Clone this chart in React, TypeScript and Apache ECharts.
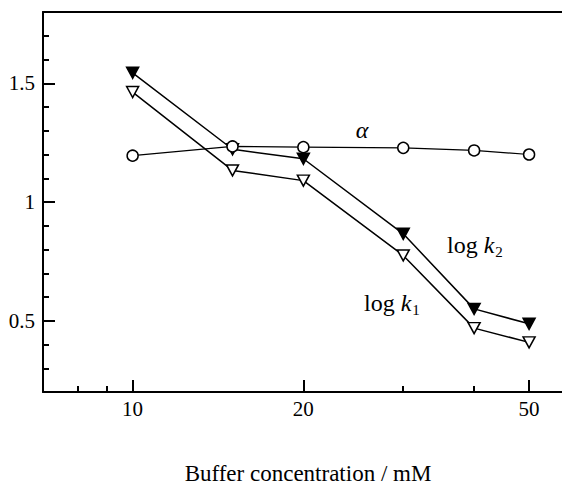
import React, { useEffect, useRef } from "react";
import * as echarts from "echarts";

const concentration = [10, 15, 20, 30, 40, 50];
const alphaValues = [1.195, 1.234, 1.231, 1.228, 1.217, 1.2];
const logK2Values = [1.544, 1.222, 1.182, 0.866, 0.55, 0.487];
const logK1Values = [1.463, 1.133, 1.09, 0.775, 0.469, 0.409];

const majorXTicks = [10, 20, 50];
const minorXTicks = [8, 9, 30, 40];
const majorYTicks = [0.5, 1, 1.5];

const FONT = "Liberation Serif";
const lg = (v: number) => Math.log10(v);

export default function App() {
  const ref = useRef<HTMLDivElement>(null);
  useEffect(() => {
    if (!ref.current) return;
    const chart = echarts.init(ref.current, null, { renderer: "svg" });
    const xMin = 0.842;
    const xMax = 1.757;
    const pts = (vals: number[]) => concentration.map((c, i) => [lg(c), vals[i]]);
    const lineStyle = { color: "#000", width: 1.5 };
    const sub = (d: string) => ({
      text: `{n|log }{i|k}{s|${d}}`,
      fill: "#000",
      fontFamily: FONT,
      verticalAlign: "middle",
      rich: {
        n: { fontFamily: FONT, fontSize: 24, lineHeight: 28, fill: "#000" },
        i: { fontFamily: FONT, fontSize: 24, fontStyle: "italic", lineHeight: 28, fill: "#000" },
        s: { fontFamily: FONT, fontSize: 15, lineHeight: 15, verticalAlign: "bottom", padding: [0, 0, 0, 1], fill: "#000" },
      },
    });
    chart.setOption({
      animation: false,
      grid: { left: 43, top: 12, right: 0, bottom: 93 },
      xAxis: [
        {
          type: "value",
          position: "bottom",
          min: xMin,
          max: xMax,
          splitLine: { show: false },
          axisLine: { show: true, onZero: false, lineStyle: { color: "#000", width: 2 } },
          axisTick: {
            show: true,
            inside: true,
            length: 12,
            lineStyle: { color: "#000", width: 2 },
            customValues: majorXTicks.map(lg),
          },
          axisLabel: {
            show: true,
            margin: 6,
            color: "#000",
            fontFamily: FONT,
            fontSize: 21,
            customValues: majorXTicks.map(lg),
            formatter: (v: number) => String(Math.round(Math.pow(10, v))),
          },
        },
        {
          type: "value",
          position: "bottom",
          min: xMin,
          max: xMax,
          splitLine: { show: false },
          axisLine: { show: false },
          axisTick: {
            show: true,
            inside: true,
            length: 6,
            lineStyle: { color: "#000", width: 2 },
            customValues: minorXTicks.map(lg),
          },
          axisLabel: { show: false },
        },
        {
          type: "value",
          position: "top",
          min: xMin,
          max: xMax,
          splitLine: { show: false },
          axisLine: { show: true, onZero: false, lineStyle: { color: "#000", width: 2 } },
          axisTick: { show: false },
          axisLabel: { show: false },
        },
      ],
      yAxis: [
        {
          type: "value",
          min: 0.2,
          max: 1.8,
          splitLine: { show: false },
          axisLine: { show: true, onZero: false, lineStyle: { color: "#000", width: 2 } },
          axisTick: {
            show: true,
            inside: true,
            length: 12,
            lineStyle: { color: "#000", width: 2 },
            customValues: majorYTicks,
          },
          axisLabel: {
            show: true,
            margin: 8,
            color: "#000",
            fontFamily: FONT,
            fontSize: 21,
            customValues: majorYTicks,
            formatter: (v: number) => String(v),
          },
        },
        {
          type: "value",
          min: 0.2,
          max: 1.8,
          interval: 0.1,
          position: "left",
          splitLine: { show: false },
          axisLine: { show: false },
          axisTick: {
            show: true,
            inside: true,
            length: 6,
            lineStyle: { color: "#000", width: 2 },
          },
          axisLabel: { show: false },
        },
      ],
      series: [
        {
          type: "line",
          data: pts(logK1Values),
          symbol: "triangle",
          symbolRotate: 180,
          symbolSize: [12, 11],
          lineStyle,
          itemStyle: { color: "#fff", borderColor: "#000", borderWidth: 1.5 },
          z: 2,
        },
        {
          type: "line",
          data: pts(logK2Values),
          symbol: "triangle",
          symbolRotate: 180,
          symbolSize: [12, 11],
          lineStyle,
          itemStyle: { color: "#000", borderColor: "#000", borderWidth: 1.5 },
          z: 3,
        },
        {
          type: "line",
          data: pts(alphaValues),
          symbol: "circle",
          symbolSize: 11,
          lineStyle: { color: "#000", width: 1.2 },
          itemStyle: { color: "#fff", borderColor: "#000", borderWidth: 1.5 },
          z: 4,
        },
      ],
      graphic: [
        {
          type: "text",
          x: 362,
          y: 130,
          style: {
            text: "α",
            fontFamily: FONT,
            fontSize: 24,
            fontStyle: "italic",
            fill: "#000",
            align: "center",
            verticalAlign: "middle",
          },
        },
        { type: "text", x: 447, y: 245, style: sub("2") },
        { type: "text", x: 364, y: 303, style: sub("1") },
        {
          type: "text",
          x: 308,
          y: 473,
          style: {
            text: "Buffer concentration / mM",
            fontFamily: FONT,
            fontSize: 23,
            fill: "#000",
            align: "center",
            verticalAlign: "middle",
          },
        },
      ],
    });
    return () => chart.dispose();
  }, []);
  return (
    <div
      ref={ref}
      style={{ position: "absolute", left: 0, top: 0, width: 562, height: 485 }}
    />
  );
}
